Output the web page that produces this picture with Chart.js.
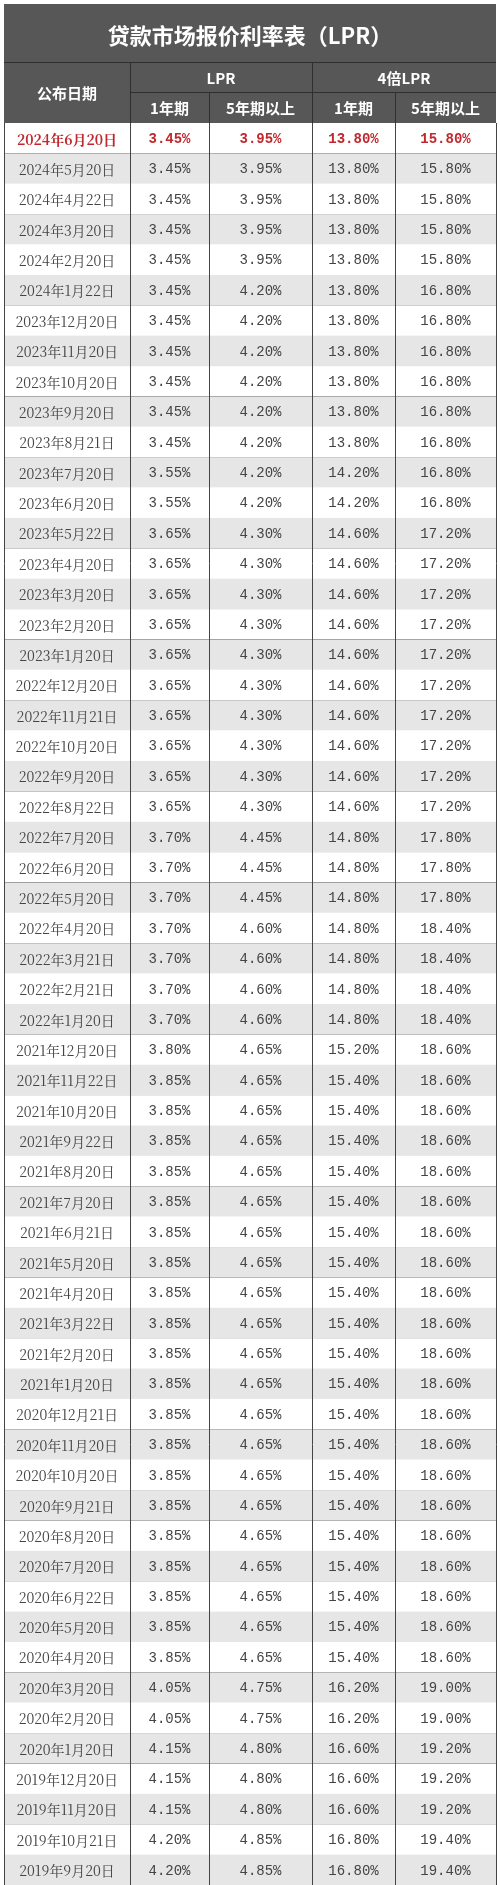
<!DOCTYPE html>
<html><head><meta charset="utf-8">
<script src="https://cdn.jsdelivr.net/npm/chart.js@4/dist/chart.umd.min.js"></script>
<style>html,body{margin:0;padding:0;background:#fff}canvas{display:block}</style>
</head><body>
<div style="width:500px;height:1885px"><canvas id="c"></canvas></div>
<script>
const dates = ["2024年6月20日","2024年5月20日","2024年4月22日","2024年3月20日","2024年2月20日","2024年1月22日",
"2023年12月20日","2023年11月20日","2023年10月20日","2023年9月20日","2023年8月21日","2023年7月20日","2023年6月20日","2023年5月22日","2023年4月20日","2023年3月20日","2023年2月20日","2023年1月20日",
"2022年12月20日","2022年11月21日","2022年10月20日","2022年9月20日","2022年8月22日","2022年7月20日","2022年6月20日","2022年5月20日","2022年4月20日","2022年3月21日","2022年2月21日","2022年1月20日",
"2021年12月20日","2021年11月22日","2021年10月20日","2021年9月22日","2021年8月20日","2021年7月20日","2021年6月21日","2021年5月20日","2021年4月20日","2021年3月22日","2021年2月20日","2021年1月20日",
"2020年12月21日","2020年11月20日","2020年10月20日","2020年9月21日","2020年8月20日","2020年7月20日","2020年6月22日","2020年5月20日","2020年4月20日","2020年3月20日","2020年2月20日","2020年1月20日",
"2019年12月20日","2019年11月20日","2019年10月21日","2019年9月20日"];
const lpr1 = ["3.45","3.45","3.45","3.45","3.45","3.45",
"3.45","3.45","3.45","3.45","3.45","3.55","3.55","3.65","3.65","3.65","3.65","3.65",
"3.65","3.65","3.65","3.65","3.65","3.70","3.70","3.70","3.70","3.70","3.70","3.70",
"3.80","3.85","3.85","3.85","3.85","3.85","3.85","3.85","3.85","3.85","3.85","3.85",
"3.85","3.85","3.85","3.85","3.85","3.85","3.85","3.85","3.85","4.05","4.05","4.15",
"4.15","4.15","4.20","4.20"];
const lpr5 = ["3.95","3.95","3.95","3.95","3.95","4.20",
"4.20","4.20","4.20","4.20","4.20","4.20","4.20","4.30","4.30","4.30","4.30","4.30",
"4.30","4.30","4.30","4.30","4.30","4.45","4.45","4.45","4.60","4.60","4.60","4.60",
"4.65","4.65","4.65","4.65","4.65","4.65","4.65","4.65","4.65","4.65","4.65","4.65",
"4.65","4.65","4.65","4.65","4.65","4.65","4.65","4.65","4.65","4.75","4.75","4.80",
"4.80","4.80","4.85","4.85"];
const lpr1x4 = ["13.80","13.80","13.80","13.80","13.80","13.80",
"13.80","13.80","13.80","13.80","13.80","14.20","14.20","14.60","14.60","14.60","14.60","14.60",
"14.60","14.60","14.60","14.60","14.60","14.80","14.80","14.80","14.80","14.80","14.80","14.80",
"15.20","15.40","15.40","15.40","15.40","15.40","15.40","15.40","15.40","15.40","15.40","15.40",
"15.40","15.40","15.40","15.40","15.40","15.40","15.40","15.40","15.40","16.20","16.20","16.60",
"16.60","16.60","16.80","16.80"];
const lpr5x4 = ["15.80","15.80","15.80","15.80","15.80","16.80",
"16.80","16.80","16.80","16.80","16.80","16.80","16.80","17.20","17.20","17.20","17.20","17.20",
"17.20","17.20","17.20","17.20","17.20","17.80","17.80","17.80","18.40","18.40","18.40","18.40",
"18.60","18.60","18.60","18.60","18.60","18.60","18.60","18.60","18.60","18.60","18.60","18.60",
"18.60","18.60","18.60","18.60","18.60","18.60","18.60","18.60","18.60","19.00","19.00","19.20",
"19.20","19.20","19.40","19.40"];
const title = "贷款市场报价利率表（LPR）";
const colHeaders = ["公布日期","LPR","4倍LPR","1年期","5年期以上"];

const EDGES = [0,126,205,308,391,492]; // column edges in x-scale units
const TOP = 123, LEFT = 4;
const NUM = "14px 'Liberation Mono','Noto Sans CJK SC',monospace";
const DATEF = "14px 'Noto Serif CJK SC','Noto Sans CJK SC',serif";

const tablePlugin = {
  id:'table',
  afterDraw(chart){
    const ctx = chart.ctx, xs = chart.scales.x, ys = chart.scales.y;
    const X = v => xs.getPixelForValue(v);
    const L = X(EDGES[0]), R = X(EDGES[5]);
    const band = ys.getPixelForValue(1) - ys.getPixelForValue(0);
    ctx.save();
    // header
    ctx.fillStyle = '#575757';
    ctx.fillRect(L, 4, R-L, TOP-4);
    ctx.fillStyle = '#fff'; ctx.textAlign='center'; ctx.textBaseline='middle';
    ctx.font = "bold 22px 'Noto Sans CJK SC'";
    ctx.fillText(title, (L+R)/2, 36);
    ctx.strokeStyle = '#2f2f2f'; ctx.lineWidth = 1;
    const line=(x1,y1,x2,y2)=>{ctx.beginPath();ctx.moveTo(x1,y1);ctx.lineTo(x2,y2);ctx.stroke();};
    line(L,62.5,R,62.5);
    line(X(EDGES[1]),92.5,R,92.5);
    [1,3].forEach(i=>line(X(EDGES[i])+.5,62,X(EDGES[i])+.5,TOP));
    [2,4].forEach(i=>line(X(EDGES[i])+.5,92,X(EDGES[i])+.5,TOP));
    ctx.font = "bold 15px 'Noto Sans CJK SC'";
    ctx.fillText(colHeaders[0], (X(EDGES[0])+X(EDGES[1]))/2, 93);
    ctx.fillText(colHeaders[1], (X(EDGES[1])+X(EDGES[3]))/2, 78);
    ctx.fillText(colHeaders[2], (X(EDGES[3])+X(EDGES[5]))/2, 78);
    for(let i=1;i<5;i++) ctx.fillText(colHeaders[i%2?3:4], (X(EDGES[i])+X(EDGES[i+1]))/2, 108);
    // rows
    const cols=[dates,lpr1,lpr5,lpr1x4,lpr5x4];
    dates.forEach((d,r)=>{
      const cy = ys.getPixelForValue(r), y0 = cy-band/2;
      ctx.fillStyle = r%2 ? '#e6e6e6' : '#ffffff';
      ctx.fillRect(L,y0,R-L,band);
      ctx.fillStyle = r===0 ? '#c0282d' : '#444';
      for(let c=0;c<5;c++){
        ctx.font = (r===0?'bold ':'') + (c===0?DATEF:NUM);
        ctx.fillText(c===0?cols[c][r]:cols[c][r]+'%', (X(EDGES[c])+X(EDGES[c+1]))/2, cy+1);
      }
      ctx.strokeStyle='#555';
      line(L,Math.round(y0+band)+.5,R,Math.round(y0+band)+.5);
    });
    ctx.strokeStyle='#444';
    const bot = ys.getPixelForValue(dates.length-1)+band/2;
    for(let i=0;i<6;i++) line(Math.round(X(EDGES[i]))+.5,TOP,Math.round(X(EDGES[i]))+.5,bot);
    ctx.restore();
  }
};

new Chart(document.getElementById('c'),{
  type:'bar',
  data:{labels:dates,datasets:[{data:lpr1.map(Number),backgroundColor:'rgba(0,0,0,0)'}]},
  options:{
    indexAxis:'y', responsive:true, maintainAspectRatio:false, animation:false,
    layout:{padding:{top:TOP,left:LEFT,right:4,bottom:0}},
    plugins:{legend:{display:false},tooltip:{enabled:false}},
    scales:{
      x:{type:'linear',min:0,max:492,display:false},
      y:{type:'category',display:false,offset:true}
    }
  },
  plugins:[tablePlugin]
});
</script>
</body></html>
